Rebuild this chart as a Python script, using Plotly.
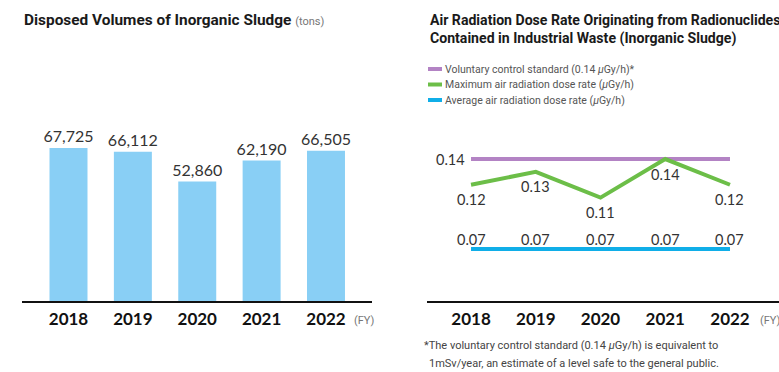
import plotly.graph_objects as go

W, H = 779, 372

# ---- data ----
years = ["2018", "2019", "2020", "2021", "2022"]
sludge_tons = [67725, 66112, 52860, 62190, 66505]

standard_dose = [0.14, 0.14, 0.14, 0.14, 0.14]
max_dose = [0.12, 0.13, 0.11, 0.14, 0.12]
avg_dose = [0.07, 0.07, 0.07, 0.07, 0.07]

legend_labels = [
    "Voluntary control standard (0.14 <i>μ</i>Gy/h)*",
    "Maximum air radiation dose rate (<i>μ</i>Gy/h)",
    "Average air radiation dose rate (<i>μ</i>Gy/h)",
]

# ---- styling ----
BAR_BLUE = "#89CFF5"
PURPLE = "#B383C4"
GREEN = "#6CBE48"
CYAN = "#10AEE8"
NUM_FONT = "Lato"
TEXT_FONT = "Roboto"


def xp(px):
    return px / W


def yp(py):
    return 1 - py / H


xs = list(range(len(years)))

fig = go.Figure()

# Left: disposed volumes (bars)
fig.add_trace(go.Bar(
    x=xs, y=sludge_tons, width=0.59,
    marker=dict(color=BAR_BLUE, line=dict(width=0)),
    texttemplate="%{y:,}", textposition="outside", constraintext="none",
    textfont=dict(family=NUM_FONT, size=16, color="#333333"),
    cliponaxis=False, showlegend=False, hoverinfo="skip",
    xaxis="x", yaxis="y",
))

# Right: dose rate lines
for series, color in ((standard_dose, PURPLE), (max_dose, GREEN), (avg_dose, CYAN)):
    fig.add_trace(go.Scatter(
        x=xs, y=series, mode="lines",
        line=dict(color=color, width=4),
        cliponaxis=False, showlegend=False, hoverinfo="skip",
        xaxis="x2", yaxis="y2",
    ))

axis_common = dict(
    showline=True, linecolor="#111111", linewidth=2,
    showgrid=False, zeroline=False, ticks="",
    tickmode="array", tickvals=xs, ticktext=years,
    tickfont=dict(family=NUM_FONT, size=17, color="#111111", weight="bold"),
    ticklabelstandoff=2, fixedrange=True,
)

fig.update_layout(
    width=W, height=H, autosize=False,
    margin=dict(l=0, r=0, t=0, b=0),
    paper_bgcolor="white", plot_bgcolor="white",
    xaxis=dict(domain=[xp(21.7), xp(371.7)], range=[-0.727, 4.71],
               anchor="y", **axis_common),
    yaxis=dict(domain=[yp(301), yp(120.3)], range=[0, 80000],
               visible=False, fixedrange=True),
    xaxis2=dict(domain=[xp(427), 1.0], range=[-0.68, 4.757],
                anchor="y2", **axis_common),
    yaxis2=dict(domain=[yp(301), yp(133.3)], range=[0.0296, 0.16],
                visible=False, fixedrange=True),
)

annotations = []
label_font = dict(family=NUM_FONT, size=14.5, color="#333333")

# Value labels on the dose-rate chart
annotations.append(dict(
    x=xs[0], y=standard_dose[0], xref="x2", yref="y2",
    xanchor="right", yanchor="middle", xshift=-4, showarrow=False,
    text=f"{standard_dose[0]:.2f}", font=label_font,
))
for x, v in zip(xs, max_dose):
    annotations.append(dict(
        x=x, y=v, xref="x2", yref="y2", xanchor="center", yanchor="middle",
        yshift=-15, showarrow=False, text=f"{v:.2f}", font=label_font,
    ))
for x, v in zip(xs, avg_dose):
    annotations.append(dict(
        x=x, y=v, xref="x2", yref="y2", xanchor="center", yanchor="middle",
        yshift=10, showarrow=False, text=f"{v:.2f}", font=label_font,
    ))

# Titles
annotations.append(dict(
    x=xp(22), y=yp(20), xref="paper", yref="paper",
    xanchor="left", yanchor="middle", showarrow=False,
    text="Disposed Volumes of Inorganic Sludge "
         "<span style='font-size:11px;color:#777777;font-weight:400'>(tons)</span>",
    font=dict(family=TEXT_FONT, size=15.4, color="#1a1a1a", weight=700),
))
right_title_font = dict(family=TEXT_FONT, size=14.1, color="#1a1a1a", weight=700)
annotations.append(dict(
    x=xp(428), y=yp(20), xref="paper", yref="paper",
    xanchor="left", yanchor="middle", showarrow=False,
    text="Air Radiation Dose Rate Originating from Radionuclides",
    font=right_title_font,
))
annotations.append(dict(
    x=xp(428), y=yp(38.5), xref="paper", yref="paper",
    xanchor="left", yanchor="middle", showarrow=False,
    text="Contained in Industrial Waste (Inorganic Sludge)",
    font=right_title_font,
))

# FY unit labels
for xpx in (352, 758):
    annotations.append(dict(
        x=xp(xpx), y=yp(320), xref="paper", yref="paper",
        xanchor="left", yanchor="middle", showarrow=False,
        text="(FY)", font=dict(family=TEXT_FONT, size=11, color="#777777"),
    ))

# Legend for the dose-rate lines
shapes = []
for i, (label, color) in enumerate(zip(legend_labels, [PURPLE, GREEN, CYAN])):
    yy = 69 + i * 15.5
    shapes.append(dict(
        type="line", xref="paper", yref="paper",
        x0=xp(428), x1=xp(442), y0=yp(yy), y1=yp(yy),
        line=dict(color=color, width=4),
    ))
    annotations.append(dict(
        x=xp(443), y=yp(yy), xref="paper", yref="paper",
        xanchor="left", yanchor="middle", showarrow=False,
        text=label, font=dict(family=TEXT_FONT, size=10.5, color="#555555"),
    ))

# Footnote
foot_font = dict(family=TEXT_FONT, size=11, color="#444444")
annotations.append(dict(
    x=xp(422), y=yp(345), xref="paper", yref="paper",
    xanchor="left", yanchor="middle", showarrow=False,
    text="*The voluntary control standard (0.14 <i>μ</i>Gy/h) is equivalent to",
    font=foot_font,
))
annotations.append(dict(
    x=xp(427), y=yp(363), xref="paper", yref="paper",
    xanchor="left", yanchor="middle", showarrow=False,
    text="1mSv/year, an estimate of a level safe to the general public.",
    font=foot_font,
))

fig.update_layout(annotations=annotations, shapes=shapes)

fig.write_html("out.html")
